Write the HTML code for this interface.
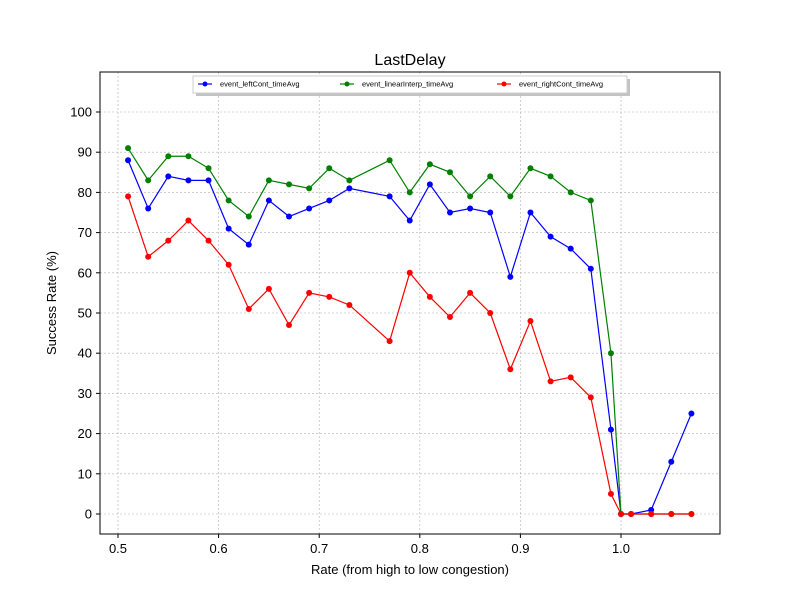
<!DOCTYPE html>
<html><head><meta charset="utf-8"><style>
body{margin:0;background:#fff;}
svg text{font-family:"Liberation Sans","DejaVu Sans",sans-serif;}
</style></head><body>
<svg id="chart" width="800" height="600" xmlns="http://www.w3.org/2000/svg">
<rect width="800" height="600" fill="#fff"/>
<text x="410" y="65" text-anchor="middle" font-size="16">LastDelay</text>
<g id="grid"></g>
<g id="series"></g>
<rect x="100" y="72" width="620" height="462" fill="none" stroke="#000" stroke-width="1"/>
<g id="axes"></g>
<text x="410" y="574" text-anchor="middle" font-size="13">Rate (from high to low congestion)</text>
<text transform="translate(56,303) rotate(-90)" text-anchor="middle" font-size="13">Success Rate (%)</text>
<g id="legend">
<rect x="196" y="79" width="434" height="17" fill="#888" opacity="0.5"/>
<rect x="193" y="76" width="434" height="17" fill="#fff" stroke="#ccc"/>
</g>
</svg>
<script>
const xs=[0.51,0.53,0.55,0.57,0.59,0.61,0.63,0.65,0.67,0.69,0.71,0.73,0.77,0.79,0.81,0.83,0.85,0.87,0.89,0.91,0.93,0.95,0.97,0.99,1.0,1.01,1.03,1.05,1.07];
const leftCont=[88,76,84,83,83,71,67,78,74,76,78,81,79,73,82,75,76,75,59,75,69,66,61,21,0,0,1,13,25];
const linearInterp=[91,83,89,89,86,78,74,83,82,81,86,83,88,80,87,85,79,84,79,86,84,80,78,40,0,0,0,0,0];
const rightCont=[79,64,68,73,68,62,51,56,47,55,54,52,43,60,54,49,55,50,36,48,33,34,29,5,0,0,0,0,0];
const xTicks=[0.5,0.6,0.7,0.8,0.9,1.0];
const yTicks=[0,10,20,30,40,50,60,70,80,90,100];
const seriesNames=["event_leftCont_timeAvg","event_linearInterp_timeAvg","event_rightCont_timeAvg"];
const NS="http://www.w3.org/2000/svg";
const X=v=>118+(v-0.5)*1006;
const Y=v=>514-v*4.02;
function mk(tag,attrs,parent){const e=document.createElementNS(NS,tag);for(const k in attrs)e.setAttribute(k,attrs[k]);parent.appendChild(e);return e;}
const grid=document.getElementById('grid'),axes=document.getElementById('axes'),ser=document.getElementById('series'),leg=document.getElementById('legend');
xTicks.forEach(t=>{
 const g=mk('line',{x1:X(t),x2:X(t),y1:72,y2:534,stroke:'#b0b0b0','stroke-width':0.6,'stroke-dasharray':'2,2'},grid);
 
 
 mk('line',{x1:X(t),x2:X(t),y1:534,y2:538,stroke:'#000'},axes);
 const l=mk('text',{x:X(t),y:553,'text-anchor':'middle','font-size':13},axes);
 l.textContent=t.toFixed(1);
 
 
});
yTicks.forEach(t=>{
 const g=mk('line',{x1:100,x2:720,y1:Y(t),y2:Y(t),stroke:'#b0b0b0','stroke-width':0.6,'stroke-dasharray':'2,2'},grid);
 
 
 mk('line',{x1:96,x2:100,y1:Y(t),y2:Y(t),stroke:'#000'},axes);
 const l=mk('text',{x:92,y:Y(t)+4.5,'text-anchor':'end','font-size':13},axes);
 l.textContent=t;
 
 
});
const data=[leftCont,linearInterp,rightCont],cols=['#0000ff','#008000','#ff0000'];
const legX=[198,340,497];
data.forEach((d,i)=>{
 const g=mk('g',{},ser);
 
 
 mk('polyline',{points:d.map((v,j)=>X(xs[j])+','+Y(v)).join(' '),fill:'none',stroke:cols[i],'stroke-width':1.2},g);
 d.forEach((v,j)=>{
  const c=mk('circle',{cx:X(xs[j]),cy:Y(v),r:3,fill:cols[i]},g);
  
  
 });
 const e=mk('g',{},leg);
 
 
 mk('line',{x1:legX[i],x2:legX[i]+14,y1:84,y2:84,stroke:cols[i],'stroke-width':1.2},e);
 mk('circle',{cx:legX[i]+7,cy:84,r:2.5,fill:cols[i]},e);
 const t=mk('text',{x:legX[i]+22,y:86.5,'font-size':7.5},e);
 t.textContent=seriesNames[i];
});
</script>
</body></html>
